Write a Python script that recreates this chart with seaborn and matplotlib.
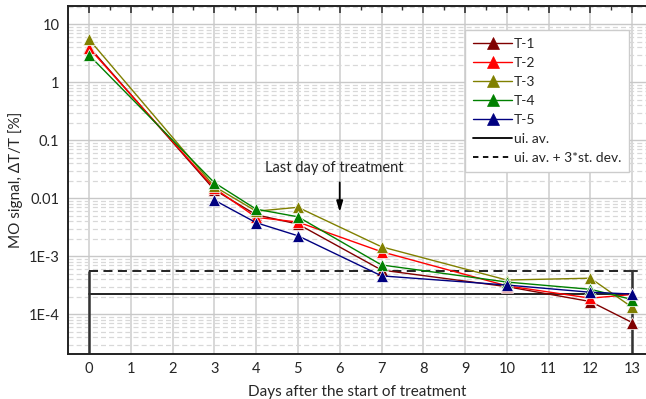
import numpy as np
import pandas as pd
import matplotlib
matplotlib.use("Agg")
import matplotlib.pyplot as plt
from matplotlib.lines import Line2D
from matplotlib.ticker import FixedLocator, FixedFormatter, LogLocator, NullFormatter
import seaborn as sns

days = [0, 3, 4, 5, 7, 10, 12, 13]
t1 = [4.1, 0.014, 0.0052, 0.0036, 0.00058, 0.00030, 0.000166, 0.000072]
t2 = [3.9, 0.015, 0.0047, 0.0039, 0.0012, 0.00031, 0.00019, 0.00022]
t3 = [5.5, 0.016, 0.0060, 0.0070, 0.00146, 0.00039, 0.00042, 0.000132]
t4 = [2.95, 0.0186, 0.0065, 0.0048, 0.00071, 0.00036, 0.00027, 0.00018]
t5 = [np.nan, 0.0093, 0.0038, 0.00226, 0.00046, 0.00032, 0.00024, 0.000224]
series_names = ["T-1", "T-2", "T-3", "T-4", "T-5"]
series_vals = [t1, t2, t3, t4, t5]
colors = {"T-1": "#800000", "T-2": "#ff0000", "T-3": "#808000",
          "T-4": "#008000", "T-5": "#000080"}
ui_av = 0.000224
ui_av_3sd = 0.00055
ytick_vals = [1e1, 1e0, 1e-1, 1e-2, 1e-3, 1e-4]
ytick_labels = ["10", "1", "0.1", "0.01", "1E-3", "1E-4"]

df = pd.DataFrame({
    "day": np.tile(days, len(series_names)),
    "val": np.concatenate(series_vals),
    "series": np.repeat(series_names, len(days)),
}).dropna()

sns.set_theme(style="white")
plt.rcParams["font.family"] = ["Lato", "DejaVu Sans"]
plt.rcParams["font.size"] = 10.5

fig = plt.figure(figsize=(6.46, 3.99), dpi=100)
ax = fig.add_axes([67.7 / 646, 1 - 354 / 399, 1 - 67.7 / 646, (354 - 6) / 399])

ax.set_yscale("log")
ax.set_xlim(-0.51, 13.33)
ax.set_ylim(2.07e-5, 20.7)

# grid
ax.set_axisbelow(True)
for d in range(0, 14):
    ax.axvline(d, color="#d4d4d4", lw=1.3, zorder=0)
for e in range(-5, 2):
    ax.axhline(10.0 ** e, color="#c8c8c8", lw=1.0, zorder=0)
    for m in range(2, 10):
        ax.axhline(m * 10.0 ** e, color="#d8d8d8", lw=0.9, ls=(0, (4, 2.5)), zorder=0)

# reference lines
ax.plot([0, 13], [ui_av, ui_av], color="#111111", lw=1.3, zorder=2)
ax.plot([0, 13], [ui_av_3sd, ui_av_3sd], color="#111111", lw=1.3, ls=(0, (5, 3)), zorder=2)
ax.vlines([0, 13], 2.07e-5, ui_av_3sd, color="#333333", lw=1.8, zorder=2)
ax.plot([12.88, 13.12], [ui_av_3sd, ui_av_3sd], color="#333333", lw=1.5, zorder=2)

sns.lineplot(data=df, x="day", y="val", hue="series", style="series",
             palette=colors, markers={n: "^" for n in series_names},
             dashes=False, markersize=9, markeredgewidth=0.5, lw=1.0,
             legend=False, ax=ax, zorder=3)

ax.annotate("", xy=(6, 0.0052), xytext=(6, 0.021),
            arrowprops=dict(arrowstyle="-|>,head_length=0.6,head_width=0.18",
                            color="black", lw=1.3))
ax.text(5.87, 0.034, "Last day of treatment", ha="center", va="center", fontsize=10.5)

# ticks
ax.set_xticks(range(0, 14))
ax.set_xticks(np.arange(0.5, 13.5, 1.0), minor=True)
ax.yaxis.set_major_locator(FixedLocator(ytick_vals))
ax.yaxis.set_major_formatter(FixedFormatter(ytick_labels))
ax.yaxis.set_minor_locator(LogLocator(base=10, subs=np.arange(2, 10), numticks=20))
ax.yaxis.set_minor_formatter(NullFormatter())
ax.tick_params(axis="both", which="major", direction="in", length=5, width=1.2,
               color="#333333", labelsize=10.5, top=True, pad=6)
ax.tick_params(axis="both", which="minor", direction="in", length=3, width=1.0,
               color="#333333", top=True)
ax.tick_params(axis="y", right=False, which="both")

for s in ["left", "top", "bottom"]:
    ax.spines[s].set_color("#222222")
    ax.spines[s].set_linewidth(1.4)
ax.spines["right"].set_visible(False)

ax.set_xlabel("Days after the start of treatment", fontsize=11, labelpad=6)
ax.set_ylabel("MO signal, ΔT/T [%]", fontsize=11, labelpad=4)

handles = [Line2D([0], [0], color=colors[n], marker="^", markersize=9, lw=1.0,
                  markeredgewidth=0.5) for n in series_names]
handles.append(Line2D([0], [0], color="black", lw=1.3))
handles.append(Line2D([0], [0], color="black", lw=1.3, ls=(0, (3, 2.5))))
labels = series_names + ["ui. av.", "ui. av. + 3*st. dev."]
leg = ax.legend(handles, labels, loc="upper left",
                bbox_to_anchor=(465 / 646, 1 - 30 / 399), bbox_transform=fig.transFigure,
                frameon=True, fancybox=False, framealpha=1, edgecolor="#cccccc",
                fontsize=10, handlelength=2.8, handletextpad=0.1, labelspacing=0.5,
                borderpad=0.6, borderaxespad=0)
leg.get_frame().set_linewidth(1.0)

fig.savefig("out.png", dpi=100)
